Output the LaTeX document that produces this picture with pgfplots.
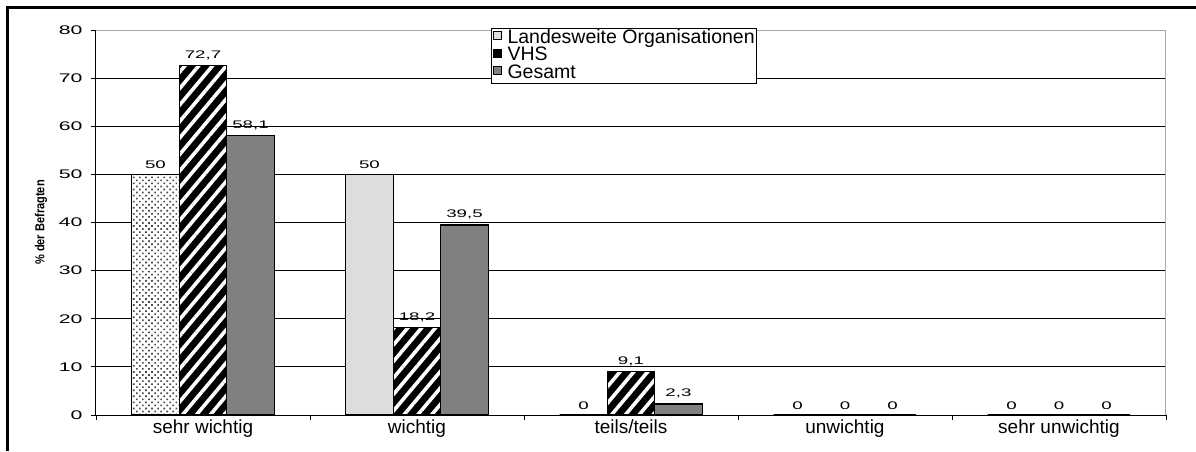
\documentclass[border=0pt]{standalone}
\usepackage{pgfplots}
\pgfplotsset{compat=1.18}
\usepackage{fontspec}
\setmainfont{Liberation Sans}
\newfontfamily\numfont[FakeStretch=1.7]{Liberation Sans}
\newfontfamily\narrowfont[FakeStretch=0.85]{Liberation Sans}
\usetikzlibrary{patterns.meta}
\definecolor{lightbar}{HTML}{DDDDDD}
\definecolor{midbar}{HTML}{808080}
\begin{document}
\begin{tikzpicture}[x=1pt,y=1pt]
\useasboundingbox (0,0) rectangle (1196,451);
\draw[line width=2.5pt] (7.5,0) -- (7.5,443.5) -- (1196,443.5);
\begin{axis}[
  at={(96pt,36pt)}, anchor=south west,
  scale only axis, width=1070pt, height=385pt,
  clip=false,
  xmin=-0.5, xmax=4.5, ymin=0, ymax=80,
  ybar=0pt, bar width=47.5pt,
  ytick={0,10,...,80},
  xtick={-0.5,0.5,...,4.5},
  xticklabels={,,,,,},
  extra x ticks={0,1,2,3,4},
  extra x tick labels={sehr wichtig, wichtig, teils/teils, unwichtig, sehr unwichtig},
  extra x tick style={major tick length=0pt, xticklabel style={font=\fontsize{19}{20}\selectfont, yshift=-1pt}},
  xtick pos=bottom, ytick pos=left,
  tick align=outside, major tick length=5pt,
  tick style={black, line width=0.8pt},
  ymajorgrids, grid style={black, line width=0.8pt},
  axis line style={draw=gray!70, line width=1pt},
  /pgf/number format/assume math mode=true,
  /pgf/number format/use comma,
  yticklabel style={font=\numfont\fontsize{12.5}{13}\selectfont, xshift=-5pt},
  ylabel={\% der Befragten},
  every axis y label/.style={at={(axis description cs:-0.0514,0.5)}, rotate=90, anchor=center,
    font=\narrowfont\bfseries\fontsize{13}{14}\selectfont},
  legend style={at={(axis description cs:0.369,1.005)}, anchor=north west,
    draw=black, line width=0.8pt, inner sep=1.5pt, row sep=0pt,
    font=\fontsize{19.5}{21}\selectfont,
    nodes={inner sep=0pt, text height=13.5pt, text depth=3.8pt}},
  legend cell align=left,
  every node near coord/.append style={font=\numfont\fontsize{11}{11}\selectfont, inner sep=1pt, yshift=4pt, black},
]
% Landesweite Organisationen
\addplot[fill=lightbar, draw=black, line width=1.2pt, bar shift=-47.5pt, nodes near coords,
  legend image code/.code={\draw[fill=lightbar, draw=black, line width=0.8pt] (0pt,-1pt) rectangle (8pt,7pt);}]
  coordinates {(0,50) (1,50) (2,0) (3,0) (4,0)};
\addplot[fill=white, draw=black, line width=1.2pt, bar shift=-47.5pt, forget plot]
  coordinates {(0,50)};
\addplot[pattern={Dots[angle=45, distance=4.3pt, radius=1.15pt]}, pattern color=gray!55!black,
  draw=black, line width=1.2pt, bar shift=-47.5pt, forget plot]
  coordinates {(0,50)};
% VHS
\addplot[fill=black, draw=black, line width=1.2pt, bar shift=0pt, forget plot]
  coordinates {(0,72.7) (1,18.2) (2,9.1) (3,0) (4,0)};
\addplot[pattern={Lines[angle=50, distance=10.6pt, line width=3.6pt]}, pattern color=white,
  draw=black, line width=1.2pt, bar shift=0pt, nodes near coords,
  legend image code/.code={\draw[fill=black, draw=black, line width=0.8pt] (0pt,-1pt) rectangle (8pt,7pt);}]
  coordinates {(0,72.7) (1,18.2) (2,9.1) (3,0) (4,0)};
% Gesamt
\addplot[fill=midbar, draw=black, line width=1.2pt, bar shift=47.5pt, nodes near coords,
  legend image code/.code={\draw[fill=midbar, draw=black, line width=0.8pt] (0pt,-1pt) rectangle (8pt,7pt);}]
  coordinates {(0,58.1) (1,39.5) (2,2.3) (3,0) (4,0)};
\legend{\kern6pt Landesweite Organisationen, \kern6pt VHS, \kern6pt Gesamt}
\draw[black, line width=1pt] (rel axis cs:0,1) -- (rel axis cs:0,0) -- (rel axis cs:1,0);
\end{axis}
\end{tikzpicture}
\end{document}
